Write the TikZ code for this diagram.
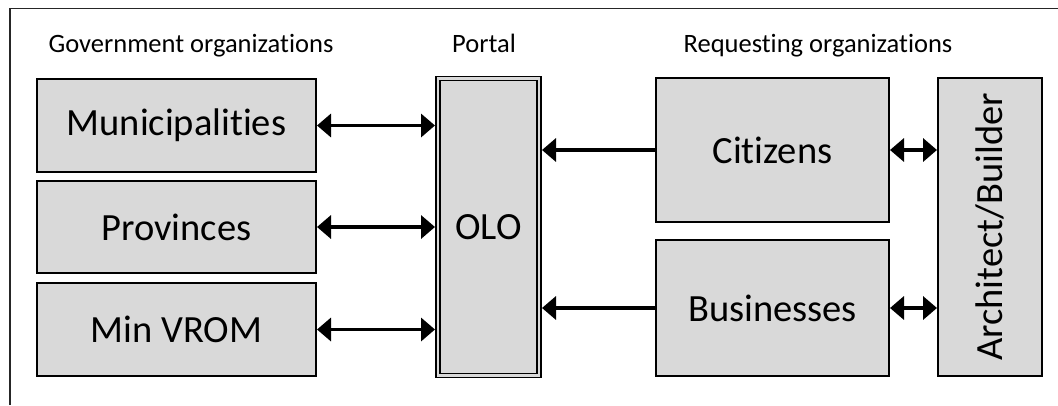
\documentclass[tikz,border=0pt]{standalone}
\usepackage{fontspec}
\setmainfont{Carlito}[Ligatures=NoCommon]
\usetikzlibrary{arrows.meta}
\definecolor{boxgray}{HTML}{D9D9D9}
\tikzset{
  box/.style={draw=black, fill=boxgray, line width=2pt, inner sep=0pt, font=\fontsize{38.5}{46}\selectfont},
  portal/.style={draw=black, fill=boxgray, double=boxgray, double distance=2.5pt, line width=1.4pt, inner sep=0pt, outer sep=3pt, font=\fontsize{38.5}{46}\selectfont},
  head/.style={font=\fontsize{26.5}{32}\selectfont, anchor=base},
  link/.style={line width=3.8pt, {Triangle[length=14pt,width=23pt]}-{Triangle[length=14pt,width=23pt]}},
  onelink/.style={line width=3.8pt, -{Triangle[length=14pt,width=23pt]}},
}
\begin{document}
\begin{tikzpicture}[x=1pt, y=-1pt]
\useasboundingbox (0,0) rectangle (1058,405);
\draw[line width=1.5pt, draw=black!85] (10,405) -- (10,8.5) -- (1058,8.5);

\node[head] (hgov) at (191,52.3) {Government organizations};
\node[head] (hportal) at (484,52.3) {Portal};
\node[head] (hreq) at (818,52.3) {Requesting organizations};

\node[box, minimum width=279pt, minimum height=93pt] (muni) at (176.5,125.5) {Municipalities};
\node[box, minimum width=279pt, minimum height=92pt] (prov) at (176.5,227) {Provinces};
\node[box, minimum width=279pt, minimum height=93pt] (vrom) at (176.5,329.5) {Min VROM};

\node[portal, minimum width=101pt, minimum height=297pt] (olo) at (488.5,227) {OLO};

\node[box, minimum width=233pt, minimum height=144pt] (cit) at (772.5,150) {Citizens};
\node[box, minimum width=233pt, minimum height=136pt] (bus) at (772.5,308) {Businesses};
\node[box, minimum width=104pt, minimum height=298pt] (arch) at (990,227) {\rotatebox{90}{Architect/Builder}};

\draw[link] (muni.east) -- (muni.east -| olo.west);
\draw[link] (prov.east) -- (prov.east -| olo.west);
\draw[link] (vrom.east) -- (vrom.east -| olo.west);
\draw[onelink] (cit.west) -- (cit.west -| olo.east);
\draw[onelink] (bus.west) -- (bus.west -| olo.east);
\draw[link] (cit.east) -- (cit.east -| arch.west);
\draw[link] (bus.east) -- (bus.east -| arch.west);
\end{tikzpicture}
\end{document}
